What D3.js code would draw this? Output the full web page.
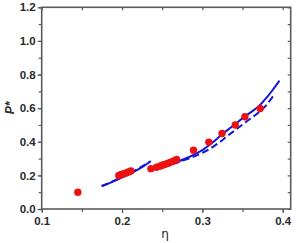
<!DOCTYPE html>
<html>
<head>
<meta charset="utf-8">
<script src="https://cdn.jsdelivr.net/npm/d3@7"></script>
<style>
html,body{margin:0;padding:0;background:#fff;}
svg{display:block;}
</style>
</head>
<body>
<svg id="chart" width="296" height="243"></svg>
<script>
// data
const pointEta = [0.145,
  0.196,0.199,0.202,0.205,0.208,0.211,
  0.236,0.243,0.247,0.250,0.253,0.256,0.259,0.262,0.265,0.268,
  0.289,0.308,0.3245,0.341,0.353,0.372];
const pointP = [0.100,
  0.199,0.205,0.210,0.214,0.220,0.226,
  0.240,0.248,0.255,0.260,0.265,0.270,0.275,0.282,0.288,0.295,
  0.350,0.398,0.449,0.500,0.549,0.598];

const solidLowEta = [0.1747,0.185,0.195,0.205,0.215,0.225,0.234];
const solidLowP   = [0.135,0.155,0.176,0.198,0.222,0.249,0.278];

const dashLowEta = [0.1747,0.185,0.195,0.205,0.215,0.225,0.236];
const dashLowP   = [0.137,0.157,0.179,0.201,0.226,0.254,0.285];

const solidHighEta = [0.238,0.250,0.260,0.270,0.280,0.289,0.300,0.3075,0.315,0.325,0.335,0.341,0.353,0.362,0.371,0.380,0.388,0.396];
const solidHighP   = [0.238,0.252,0.267,0.283,0.302,0.322,0.350,0.376,0.405,0.446,0.483,0.505,0.551,0.581,0.615,0.662,0.711,0.764];

const dashHighEta = [0.238,0.250,0.260,0.270,0.280,0.290,0.300,0.310,0.320,0.330,0.340,0.350,0.360,0.370,0.380,0.3885];
const dashHighP   = [0.236,0.249,0.263,0.278,0.295,0.313,0.334,0.360,0.392,0.430,0.466,0.502,0.538,0.574,0.620,0.674];

const xTicks = [0.1,0.2,0.3,0.4];
const yTicks = [0.0,0.2,0.4,0.6,0.8,1.0,1.2];

const svg = d3.select("#chart");
const L = 41.7, R = 290.7, T = 7.3, B = 209;
const x = d3.scaleLinear().domain([0.1,0.41]).range([L,R]);
const y = d3.scaleLinear().domain([0,1.2]).range([B,T]);

const axisColor = "#5a5a5a";
const fmt = d3.format(".1f");

// axes
const xMinor = d3.range(0.1,0.4101,0.05);
const yMinor = d3.range(0,1.2001,0.1);

const gB = svg.append("g").attr("transform",`translate(0,${B})`)
  .call(d3.axisBottom(x).tickValues(xMinor).tickSize(3).tickFormat(""));
const gB2 = svg.append("g").attr("transform",`translate(0,${B})`)
  .call(d3.axisBottom(x).tickValues(xTicks).tickSize(4).tickPadding(2).tickFormat(fmt));
const gL = svg.append("g").attr("transform",`translate(${L},0)`)
  .call(d3.axisLeft(y).tickValues(yMinor).tickSize(3).tickFormat(""));
const gL2 = svg.append("g").attr("transform",`translate(${L},0)`)
  .call(d3.axisLeft(y).tickValues(yTicks).tickSize(4).tickPadding(2).tickFormat(fmt));
const gT = svg.append("g").attr("transform",`translate(0,${T})`)
  .call(d3.axisBottom(x).tickValues(xMinor).tickSize(3).tickFormat(""));
const gR = svg.append("g").attr("transform",`translate(${R},0)`)
  .call(d3.axisLeft(y).tickValues(yMinor).tickSize(3).tickFormat(""));

[gB,gB2,gL,gL2,gT,gR].forEach(g=>{
  g.select(".domain").remove();
  g.selectAll(".tick line").attr("stroke",axisColor).attr("stroke-width",1.2);
  g.selectAll("text").style("font-family","'Liberation Sans', Arial, sans-serif")
    .style("font-size","11.5px").style("font-weight","bold").attr("fill","#2a2a2a");
});
gB2.selectAll("text").attr("dy","0.9em");

// frame
svg.append("rect").attr("x",L).attr("y",T).attr("width",R-L).attr("height",B-T)
  .attr("fill","none").attr("stroke",axisColor).attr("stroke-width",1.6);

// lines
const line = d3.line().x(d=>x(d[0])).y(d=>y(d[1])).curve(d3.curveMonotoneX);
const blue = "#1515d8";
function draw(etas,ps,dash){
  svg.append("path").datum(etas.map((e,i)=>[e,ps[i]]))
    .attr("d",line).attr("fill","none").attr("stroke",blue)
    .attr("stroke-width",2).attr("stroke-dasharray",dash?"7,3.5":null);
}
draw(dashLowEta,dashLowP,true);
draw(solidLowEta,solidLowP,false);
draw(dashHighEta,dashHighP,true);
draw(solidHighEta,solidHighP,false);

// points
svg.append("g").selectAll("circle").data(pointEta.map((e,i)=>[e,pointP[i]]))
  .join("circle").attr("cx",d=>x(d[0])).attr("cy",d=>y(d[1])).attr("r",3.7)
  .attr("fill","#ee1111");

// axis titles
svg.append("text").attr("x",165).attr("y",238).attr("text-anchor","middle")
  .style("font-family","'DejaVu Sans', sans-serif").style("font-size","12px")
  .attr("fill","#222222").text("η");
svg.append("text").attr("transform","translate(14,108) rotate(-90)").attr("text-anchor","middle")
  .style("font-family","'Liberation Sans', Arial, sans-serif").style("font-size","12px")
  .style("font-style","italic").style("font-weight","bold").attr("fill","#2a2a2a").text("P*");
</script>
</body>
</html>
